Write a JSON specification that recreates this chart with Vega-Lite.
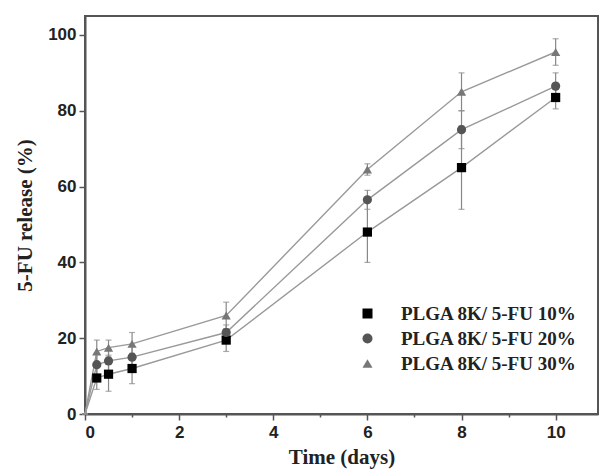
{
  "$schema": "https://vega.github.io/schema/vega-lite/v6.json",
  "width": 513,
  "height": 398,
  "autosize": "none",
  "padding": {"left": 85, "top": 16, "right": 2, "bottom": 62},
  "background": "white",
  "config": {
    "view": {"stroke": "#555", "strokeWidth": 2},
    "axis": {
      "grid": false,
      "domainColor": "#555",
      "domainWidth": 2,
      "tickColor": "#555",
      "tickWidth": 1.5,
      "labelFont": "Liberation Sans",
      "labelFontWeight": "bold",
      "labelFontSize": 17,
      "labelColor": "#222",
      "titleFont": "Liberation Serif",
      "titleFontWeight": "bold",
      "titleFontSize": 21,
      "titleColor": "#222"
    },
    "legend": {
      "labelLimit": 0
    }
  },
  "data": {
    "values": [
      {"series": "PLGA 8K/ 5-FU 10%", "time": 0, "value": 0, "err": 0},
      {"series": "PLGA 8K/ 5-FU 10%", "time": 0.25, "value": 9.5, "err": 3},
      {"series": "PLGA 8K/ 5-FU 10%", "time": 0.5, "value": 10.5, "err": 4.5},
      {"series": "PLGA 8K/ 5-FU 10%", "time": 1, "value": 12, "err": 4},
      {"series": "PLGA 8K/ 5-FU 10%", "time": 3, "value": 19.5, "err": 3},
      {"series": "PLGA 8K/ 5-FU 10%", "time": 6, "value": 48, "err": 8},
      {"series": "PLGA 8K/ 5-FU 10%", "time": 8, "value": 65, "err": 11},
      {"series": "PLGA 8K/ 5-FU 10%", "time": 10, "value": 83.5, "err": 3},
      {"series": "PLGA 8K/ 5-FU 20%", "time": 0, "value": 0, "err": 0},
      {"series": "PLGA 8K/ 5-FU 20%", "time": 0.25, "value": 13, "err": 3},
      {"series": "PLGA 8K/ 5-FU 20%", "time": 0.5, "value": 14, "err": 3},
      {"series": "PLGA 8K/ 5-FU 20%", "time": 1, "value": 15, "err": 3},
      {"series": "PLGA 8K/ 5-FU 20%", "time": 3, "value": 21.5, "err": 2},
      {"series": "PLGA 8K/ 5-FU 20%", "time": 6, "value": 56.5, "err": 2.5},
      {"series": "PLGA 8K/ 5-FU 20%", "time": 8, "value": 75, "err": 5},
      {"series": "PLGA 8K/ 5-FU 20%", "time": 10, "value": 86.5, "err": 3.5},
      {"series": "PLGA 8K/ 5-FU 30%", "time": 0, "value": 0, "err": 0},
      {"series": "PLGA 8K/ 5-FU 30%", "time": 0.25, "value": 16.5, "err": 3},
      {"series": "PLGA 8K/ 5-FU 30%", "time": 0.5, "value": 17.5, "err": 2},
      {"series": "PLGA 8K/ 5-FU 30%", "time": 1, "value": 18.5, "err": 3},
      {"series": "PLGA 8K/ 5-FU 30%", "time": 3, "value": 26, "err": 3.5},
      {"series": "PLGA 8K/ 5-FU 30%", "time": 6, "value": 64.5, "err": 1.5},
      {"series": "PLGA 8K/ 5-FU 30%", "time": 8, "value": 85, "err": 5},
      {"series": "PLGA 8K/ 5-FU 30%", "time": 10, "value": 95.5, "err": 3.5}
    ]
  },
  "encoding": {
    "x": {
      "field": "time",
      "type": "quantitative",
      "scale": {"domain": [0, 10.9], "nice": false, "zero": false},
      "axis": {
        "title": "Time (days)",
        "values": [0, 1, 2, 3, 4, 5, 6, 7, 8, 9, 10],
        "labelExpr": "datum.value % 2 === 0 ? datum.label : ''",
        "tickSize": {"condition": {"test": "datum.value % 2 === 0", "value": 6}, "value": 3},
        "labelPadding": 4,
        "titlePadding": 6
      }
    }
  },
  "layer": [
    {
      "mark": {"type": "errorbar", "ticks": {"size": 6}, "color": "#888", "thickness": 1.2},
      "encoding": {
        "y": {
          "field": "value",
          "type": "quantitative",
          "scale": {"domain": [0, 105], "nice": false},
          "axis": {
            "title": "5-FU release (%)",
            "values": [0, 10, 20, 30, 40, 50, 60, 70, 80, 90, 100],
            "labelExpr": "datum.value % 20 === 0 ? datum.label : ''",
            "tickSize": {"condition": {"test": "datum.value % 20 === 0", "value": 6}, "value": 3},
            "labelPadding": 3,
            "titlePadding": 12
          }
        },
        "yError": {"field": "err"},
        "detail": {"field": "series"}
      }
    },
    {
      "mark": {"type": "line", "color": "#999", "strokeWidth": 1.4},
      "encoding": {
        "y": {"field": "value", "type": "quantitative"},
        "detail": {"field": "series"}
      }
    },
    {
      "transform": [{"filter": "datum.time > 0"}],
      "mark": {"type": "point", "filled": true, "size": 85, "opacity": 1},
      "encoding": {
        "y": {"field": "value", "type": "quantitative"},
        "color": {
          "field": "series",
          "type": "nominal",
          "scale": {"range": ["#000000", "#555555", "#777777"]},
          "legend": {
            "title": null,
            "orient": "none",
            "legendX": 273,
            "legendY": 288,
            "padding": 0,
            "symbolSize": 100,
            "labelOffset": 24,
            "rowPadding": 5,
            "labelLimit": 0,
            "labelFont": "Liberation Serif",
            "labelFontWeight": "bold",
            "labelFontSize": 19,
            "labelColor": "#222",
            "symbolOpacity": 1
          }
        },
        "shape": {
          "field": "series",
          "type": "nominal",
          "scale": {"range": ["square", "circle", "triangle-up"]},
          "legend": {
            "title": null,
            "orient": "none",
            "legendX": 273,
            "legendY": 288,
            "padding": 0,
            "symbolSize": 100,
            "labelOffset": 24,
            "rowPadding": 5,
            "labelLimit": 0,
            "labelFont": "Liberation Serif",
            "labelFontWeight": "bold",
            "labelFontSize": 19,
            "labelColor": "#222",
            "symbolOpacity": 1
          }
        }
      }
    }
  ]
}
